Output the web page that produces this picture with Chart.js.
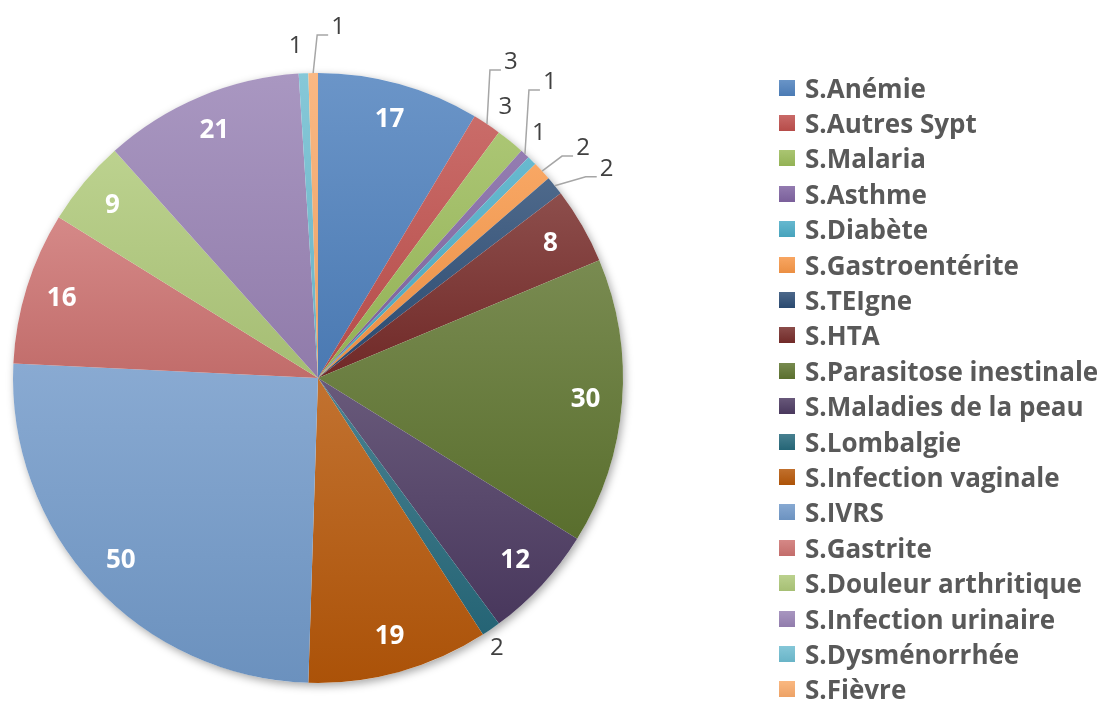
<!DOCTYPE html>
<html>
<head>
<meta charset="utf-8">
<script src="https://cdn.jsdelivr.net/npm/chart.js@4.4.0/dist/chart.umd.min.js"></script>
<style>
  body { margin: 0; background: #fff; }
  #wrap { position: relative; width: 1104px; height: 705px; }
  #legend { position: absolute; left: 779px; top: 70px; margin: 0; padding: 0; list-style: none;
    font-family: "Open Sans", sans-serif; font-weight: bold; font-size: 26px; color: #595959; }
  #legend li { height: 35.4px; display: flex; align-items: center; white-space: nowrap; }
  #legend .box { width: 16px; height: 16px; margin-right: 10px; flex: none; }
</style>
</head>
<body>
<div id="wrap">
  <canvas id="pie" width="1104" height="705"></canvas>
  <ul id="legend"></ul>
</div>
<script>
/* --------------- Data --------------------- */
const categories = [
  "S.Anémie", "S.Autres Sypt", "S.Malaria", "S.Asthme", "S.Diabète",
  "S.Gastroentérite", "S.TEIgne", "S.HTA", "S.Parasitose inestinale",
  "S.Maladies de la peau", "S.Lombalgie", "S.Infection vaginale", "S.IVRS",
  "S.Gastrite", "S.Douleur arthritique", "S.Infection urinaire",
  "S.Dysménorrhée", "S.Fièvre"
];
const values = [17, 3, 3, 1, 1, 2, 2, 8, 30, 12, 2, 19, 50, 16, 9, 21, 1, 1];

/* --------------- Colors (Excel 2007 palette) --------------------- */
const colors = [
  "#4F81BD", "#C0504D", "#9BBB59", "#8064A2", "#4BACC6", "#F79646",
  "#2C4D75", "#772C2A", "#5F7530", "#4D3B62", "#276A7C", "#B65708",
  "#729ACA", "#CD7371", "#AFC97A", "#9983B5", "#6FBDD1", "#F9AB6B"
];

/* --------------- Labels placed outside the pie (by slice index) --------------------- */
const outsideLabels = {
  1: { dx: 24, dy: -62, leader: true },
  2: { dx: -5, dy: -34 },
  3: { dx: 25, dy: -72, leader: true },
  4: { dx: 7, dy: -27 },
  5: { dx: 41, dy: -23, leader: true },
  6: { dx: 52, dy: -17, leader: true },
  10: { dx: 6, dy: 19 },
  16: { dx: -8, dy: -27 },
  17: { dx: 25, dy: -46, leader: true },
};

function shade(hex, t) {
  const n = parseInt(hex.slice(1), 16);
  let c = [n >> 16, (n >> 8) & 255, n & 255];
  c = c.map(v => Math.round(t > 0 ? v + (255 - v) * t : v * (1 + t)));
  return "rgb(" + c.join(",") + ")";
}

/* --------------- Gradient + shadow per slice --------------------- */
const sliceGradient = {
  id: "sliceGradient",
  beforeDatasetsDraw(chart) {
    const ctx = chart.ctx;
    const arcs = chart.getDatasetMeta(0).data;
    if (!arcs.length) return;
    const a0 = arcs[0];
    ctx.save();
    ctx.shadowColor = "rgba(0,0,0,0.35)";
    ctx.shadowBlur = 9;
    ctx.shadowOffsetX = 2;
    ctx.shadowOffsetY = 3;
    ctx.fillStyle = "#fff";
    ctx.beginPath();
    ctx.arc(a0.x, a0.y, a0.outerRadius, 0, Math.PI * 2);
    ctx.fill();
    ctx.restore();

    arcs.forEach((arc, i) => {
      const R = arc.outerRadius;
      let ys = [arc.y, arc.y + Math.sin(arc.startAngle) * R, arc.y + Math.sin(arc.endAngle) * R];
      [-Math.PI / 2, Math.PI / 2, Math.PI * 1.5].forEach(a => {
        if (a >= arc.startAngle && a <= arc.endAngle) ys.push(arc.y + Math.sin(a) * R);
      });
      const top = Math.min(...ys), bottom = Math.max(...ys);
      const g = ctx.createLinearGradient(0, top, 0, bottom + 1);
      g.addColorStop(0, shade(colors[i], 0.16));
      g.addColorStop(1, shade(colors[i], -0.06));
      arc.options.backgroundColor = g;
    });
  }
};

/* --------------- Value labels --------------------- */
const sliceLabels = {
  id: "sliceLabels",
  afterDatasetsDraw(chart) {
    const ctx = chart.ctx;
    const arcs = chart.getDatasetMeta(0).data;
    ctx.save();
    ctx.textAlign = "center";
    ctx.textBaseline = "middle";
    arcs.forEach((arc, i) => {
      const mid = (arc.startAngle + arc.endAngle) / 2;
      const R = arc.outerRadius;
      const text = String(chart.data.datasets[0].data[i]);
      const place = outsideLabels[i];
      if (!place) {
        const r = R * 0.88;
        ctx.font = "bold 26px 'Open Sans'";
        ctx.fillStyle = "#ffffff";
        ctx.fillText(text, arc.x + Math.cos(mid) * r, arc.y + Math.sin(mid) * r);
        return;
      }
      const ax = arc.x + Math.cos(mid) * R;
      const ay = arc.y + Math.sin(mid) * R;
      const lx = ax + place.dx;
      const ly = ay + place.dy;
      if (place.leader) {
        ctx.strokeStyle = "#a6a6a6";
        ctx.lineWidth = 1.5;
        ctx.beginPath();
        ctx.moveTo(ax, ay);
        ctx.lineTo(lx - 21, ly + 8);
        ctx.lineTo(lx - 10, ly + 8);
        ctx.stroke();
      }
      ctx.font = "24px 'Open Sans'";
      ctx.fillStyle = "#404040";
      ctx.fillText(text, lx, ly);
    });
    ctx.restore();
  }
};

const pieChart = new Chart(document.getElementById("pie"), {
  type: "pie",
  data: {
    labels: categories,
    datasets: [{
      data: values,
      backgroundColor: colors,
      borderWidth: 0,
      hoverOffset: 0,
    }],
  },
  options: {
    responsive: false,
    animation: false,
    events: [],
    layout: { padding: { left: 13, top: 73, right: 481, bottom: 22 } },
    plugins: {
      legend: { display: false },
      tooltip: { enabled: false },
    },
  },
  plugins: [sliceGradient, sliceLabels],
});

/* --------------- Legend --------------------- */
const legend = document.getElementById("legend");
pieChart.data.labels.forEach((name, i) => {
  const li = document.createElement("li");
  const box = document.createElement("span");
  box.className = "box";
  box.style.background = "linear-gradient(" + shade(colors[i], 0.15) + "," + shade(colors[i], -0.05) + ")";
  li.appendChild(box);
  li.appendChild(document.createTextNode(name));
  legend.appendChild(li);
});
</script>
</body>
</html>
